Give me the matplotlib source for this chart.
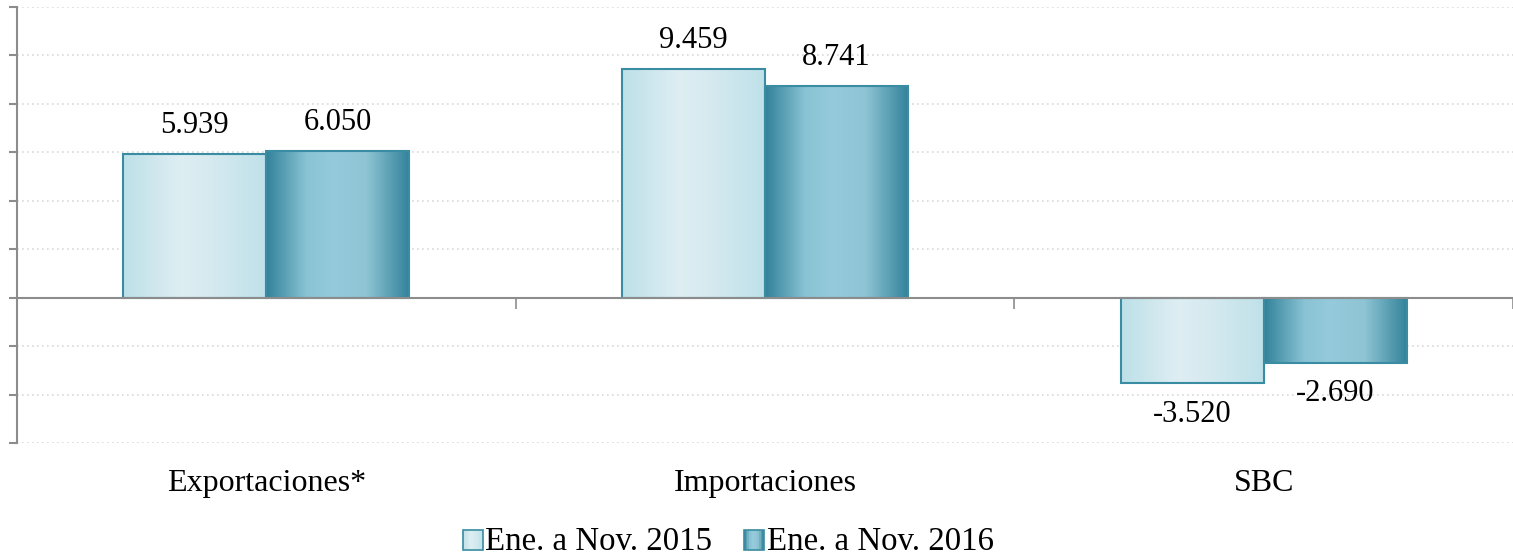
import numpy as np
import matplotlib
matplotlib.use("Agg")
import matplotlib.pyplot as plt
from matplotlib.colors import LinearSegmentedColormap
from matplotlib.patches import Rectangle
from matplotlib.legend_handler import HandlerBase

categories = ["Exportaciones*", "Importaciones", "SBC"]
series_names = ["Ene. a Nov. 2015", "Ene. a Nov. 2016"]
values_2015 = [5939, 9459, -3520]
values_2016 = [6050, 8741, -2690]
value_labels_2015 = ["5.939", "9.459", "-3.520"]
value_labels_2016 = ["6.050", "8.741", "-2.690"]

plt.rcParams['font.family'] = ['Liberation Serif', 'DejaVu Serif']

cmap_light = LinearSegmentedColormap.from_list(
    "light", [(0, "#bde0e8"), (0.4, "#deeef3"), (0.6, "#d6eaf0"), (1, "#bfe1e9")])
cmap_dark = LinearSegmentedColormap.from_list(
    "dark", [(0, "#32829a"), (0.28, "#89c3d4"), (0.45, "#94cadb"), (0.7, "#8ec4d4"), (1, "#32829a")])

fig = plt.figure(figsize=(15.13, 5.55), dpi=100)
ax = fig.add_axes([17/1513, 1-443/555, 1-17/1513, (443-7)/555])

x = np.arange(len(categories))
w = 0.287
grad = np.linspace(0, 1, 256).reshape(1, -1)
FS_VAL = 22
FS_CAT = 23
FS_LEG = 23.7

def gradient_bars(xs, vals, cmap, edge):
    bars = ax.bar(xs, vals, width=w, facecolor="none", edgecolor=edge, linewidth=1.5, zorder=3)
    for b in bars:
        x0, y0 = b.get_x(), b.get_y()
        bw, bh = b.get_width(), b.get_height()
        im = ax.imshow(grad, cmap=cmap, aspect="auto",
                       extent=[x0, x0 + bw, min(y0, y0 + bh), max(y0, y0 + bh)],
                       zorder=2, interpolation="bicubic")
        im.set_clip_path(b)
    return bars

gradient_bars(x - w/2, values_2015, cmap_light, "#3a8ca2")
gradient_bars(x + w/2, values_2016, cmap_dark, "#3a8ca2")

for i in range(len(categories)):
    for xs, v, lab in [(x[i] - w/2, values_2015[i], value_labels_2015[i]),
                       (x[i] + w/2, values_2016[i], value_labels_2016[i])]:
        if v >= 0:
            ax.annotate(lab, (xs, v), xytext=(0, 10), textcoords="offset points",
                        ha="center", va="bottom", fontsize=FS_VAL)
        else:
            ax.annotate(lab, (xs, v), xytext=(0, -12), textcoords="offset points",
                        ha="center", va="top", fontsize=FS_VAL)

ax.set_xlim(-0.5, 2.5)
ax.set_ylim(-6000, 12000)
ax.set_yticks(np.arange(-6000, 12001, 2000))
ax.set_yticklabels([])
ax.tick_params(axis="y", direction="out", length=6, width=1.5, color="#8c8c8c")
ax.grid(axis="y", linestyle=(0, (1, 2)), color="#d9d9d9", linewidth=1.2, zorder=0)
ax.set_axisbelow(True)

ax.spines["top"].set_visible(False)
ax.spines["right"].set_visible(False)
ax.spines["left"].set_color("#8c8c8c")
ax.spines["left"].set_linewidth(1.5)
ax.spines["bottom"].set_position(("data", 0))
ax.spines["bottom"].set_color("#8c8c8c")
ax.spines["bottom"].set_linewidth(1.5)
ax.spines["bottom"].set_zorder(4)
ax.set_xticks([-0.5, 0.5, 1.5, 2.5])
ax.set_xticklabels([])
ax.tick_params(axis="x", direction="out", length=8, width=1.2, color="#8c8c8c")

for i, c in enumerate(categories):
    ax.annotate(c, (x[i], -6000), xytext=(0, -29), textcoords="offset points",
                ha="center", va="center", fontsize=FS_CAT, annotation_clip=False)

class GradHandler(HandlerBase):
    def __init__(self, cmap):
        super().__init__()
        self.cmap = cmap
    def create_artists(self, legend, orig_handle, xdescent, ydescent, width, height, fontsize, trans):
        s = 14.5
        x0 = -xdescent + width - s
        y0 = -ydescent + (height - s) / 2 - 1
        arts = []
        n = 12
        for k in range(n):
            r = Rectangle((x0 + k * s / n, y0), s / n, s, facecolor=self.cmap((k + 0.5) / n),
                          edgecolor="none", transform=trans)
            arts.append(r)
        arts.append(Rectangle((x0, y0), s, s, facecolor="none", edgecolor="#3a8ca2",
                              linewidth=1.2, transform=trans))
        return arts

h1 = Rectangle((0, 0), 1, 1)
h2 = Rectangle((0, 0), 1, 1)
fig.legend([h1, h2], series_names, loc="center", bbox_to_anchor=(728/1513, 1-542/555),
           ncol=2, frameon=False, fontsize=FS_LEG, handlelength=0.62, handletextpad=0.08,
           columnspacing=0.95, handler_map={h1: GradHandler(cmap_light), h2: GradHandler(cmap_dark)},
           borderpad=0.1)

fig.savefig("out.png", dpi=100)
